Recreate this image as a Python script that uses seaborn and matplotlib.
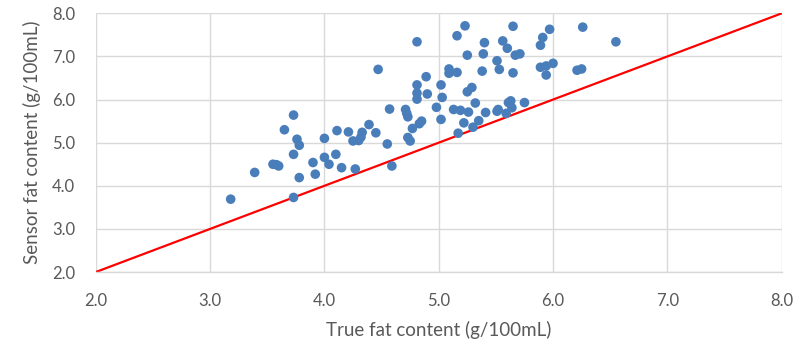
import matplotlib
matplotlib.use("Agg")
import matplotlib.pyplot as plt
import seaborn as sns
import pandas as pd
import numpy as np

true_fat = [3.18, 3.39, 3.55, 3.58, 3.60, 3.65, 3.73, 3.73, 3.73, 3.76, 3.78, 3.78,
            3.90, 3.92, 4.00, 4.00, 4.04, 4.10, 4.11, 4.15, 4.21, 4.25, 4.27, 4.30,
            4.32, 4.33, 4.39, 4.45, 4.47, 4.55, 4.57, 4.59, 4.71, 4.72, 4.73, 4.73,
            4.75, 4.77, 4.81, 4.81, 4.81, 4.81, 4.83, 4.85, 4.89, 4.90, 4.98, 5.02,
            5.03, 5.02, 5.09, 5.09, 5.13, 5.16, 5.16, 5.17, 5.19, 5.22, 5.23, 5.25,
            5.25, 5.26, 5.29, 5.30, 5.32, 5.35, 5.38, 5.39, 5.40, 5.41, 5.51, 5.52,
            5.51, 5.53, 5.56, 5.59, 5.60, 5.61, 5.63, 5.64, 5.65, 5.65, 5.67, 5.71,
            5.75, 5.89, 5.89, 5.91, 5.94, 5.94, 5.97, 6.00, 6.21, 6.25, 6.26, 6.55]
sensor_fat = [3.69, 4.31, 4.50, 4.49, 4.46, 5.30, 5.64, 4.73, 3.73, 5.08, 4.94, 4.19,
              4.54, 4.27, 5.10, 4.66, 4.50, 4.73, 5.28, 4.42, 5.25, 5.04, 4.39, 5.05,
              5.13, 5.24, 5.42, 5.23, 6.70, 4.97, 5.78, 4.46, 5.77, 5.68, 5.60, 5.12,
              5.04, 5.33, 7.34, 6.34, 6.15, 6.01, 5.44, 5.50, 6.53, 6.13, 5.82, 6.34,
              6.05, 5.54, 6.71, 6.61, 5.77, 6.63, 7.48, 5.22, 5.75, 5.46, 7.71, 7.03,
              6.18, 5.71, 6.28, 5.36, 5.92, 5.51, 6.66, 7.06, 7.32, 5.70, 5.73, 5.77,
              6.90, 6.70, 7.36, 5.68, 7.19, 5.93, 5.97, 5.81, 6.62, 7.70, 7.03, 7.06,
              5.93, 6.75, 7.26, 7.44, 6.78, 6.57, 7.63, 6.84, 6.68, 6.71, 7.68, 7.34]
ideal_x = [2.0, 8.0]
ideal_y = [2.0, 8.0]
ticks = [2.0, 3.0, 4.0, 5.0, 6.0, 7.0, 8.0]
tick_labels = ["2.0", "3.0", "4.0", "5.0", "6.0", "7.0", "8.0"]

sns.set_theme(style="white")
plt.rcParams['font.family'] = ['Lato', 'DejaVu Sans']

fig = plt.figure(figsize=(8.05, 3.51), dpi=100)
ax = fig.add_axes([0.119, 0.225, 0.852, 0.737])

df = pd.DataFrame({"true": true_fat, "sensor": sensor_fat})
line_df = pd.DataFrame({"x": ideal_x, "y": ideal_y})

sns.lineplot(data=line_df, x="x", y="y", ax=ax, color="#ff0000", linewidth=1.6, zorder=2)
sns.scatterplot(data=df, x="true", y="sensor", ax=ax, color="#4a7ebb", s=48,
                edgecolor="none", linewidth=0, zorder=3)

ax.set_xlim(2.0, 8.0)
ax.set_ylim(2.0, 8.0)
ax.set_xticks(ticks)
ax.set_xticklabels(tick_labels)
ax.set_yticks(ticks)
ax.set_yticklabels(tick_labels)
ax.grid(True, color="#d9d9d9", linewidth=1.0, zorder=0)
ax.set_axisbelow(True)
for s in ["top", "right", "left"]:
    ax.spines[s].set_visible(False)
ax.spines["bottom"].set_color("#d9d9d9")
ax.spines["bottom"].set_linewidth(1.0)
ax.tick_params(axis="both", length=0, labelsize=12, labelcolor="#595959")
ax.tick_params(axis="x", pad=15)
ax.tick_params(axis="y", pad=15)
ax.set_xlabel("True fat content (g/100mL)", fontsize=13.5, color="#595959", labelpad=9)
ax.set_ylabel("Sensor fat content (g/100mL)", fontsize=13.5, color="#595959", labelpad=8)

fig.savefig("out.png", dpi=100)
